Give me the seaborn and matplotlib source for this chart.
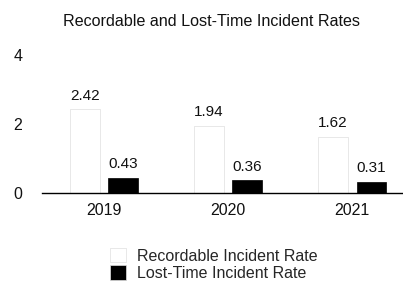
import pandas as pd
import seaborn as sns
import matplotlib.pyplot as plt

years = ["2019", "2020", "2021"]
recordable = [2.42, 1.94, 1.62]
lost_time = [0.43, 0.36, 0.31]
series = ["Recordable Incident Rate", "Lost-Time Incident Rate"]

df = pd.DataFrame({
    "Year": years * 2,
    "Rate": recordable + lost_time,
    "Series": [series[0]] * 3 + [series[1]] * 3,
})

sns.set_theme(style="white")
plt.rcParams["font.family"] = ["Liberation Sans", "DejaVu Sans"]

fig = plt.figure(figsize=(4.03, 2.82), dpi=100)
ax = fig.add_axes([0.104, 0.316, 0.896, 0.489])

sns.barplot(data=df, x="Year", y="Rate", hue="Series", hue_order=series,
            palette=["white", "black"], width=0.62, gap=0.23,
            edgecolor="#dedede", linewidth=0.5, ax=ax, legend=True)

# black bars get a black edge
for bar in ax.containers[1]:
    bar.set_edgecolor("black")

for cont in ax.containers:
    ax.bar_label(cont, fmt="%.2f", padding=5, fontsize=11, color="#111111")

ax.set_xlim(-0.5, 2.41)
ax.set_ylim(0, 4)
ax.set_yticks([0, 2, 4])
ax.set_xlabel("")
ax.set_ylabel("")
ax.tick_params(axis="y", length=0, pad=14, labelsize=11.5, labelcolor="#111111")
ax.tick_params(axis="x", length=0, pad=7, labelsize=11.5, labelcolor="#111111")
for s in ["top", "right", "left"]:
    ax.spines[s].set_visible(False)
ax.spines["bottom"].set_color("black")
ax.spines["bottom"].set_linewidth(1.0)

handles, labels = ax.get_legend_handles_labels()
ax.get_legend().remove()
fig.legend(handles, labels, loc="upper center", bbox_to_anchor=(0.53, 0.16),
           frameon=False, fontsize=11.5, handlelength=1.0, handleheight=1.0,
           handletextpad=0.7, labelspacing=0.1, borderpad=0.2)
handles[0].set_edgecolor("#555555")
handles[0].set_linewidth(0.8)

fig.suptitle("Recordable and Lost-Time Incident Rates", x=0.525, y=0.952,
             fontsize=11.6, color="#111111")

fig.savefig("out.png", dpi=100)
